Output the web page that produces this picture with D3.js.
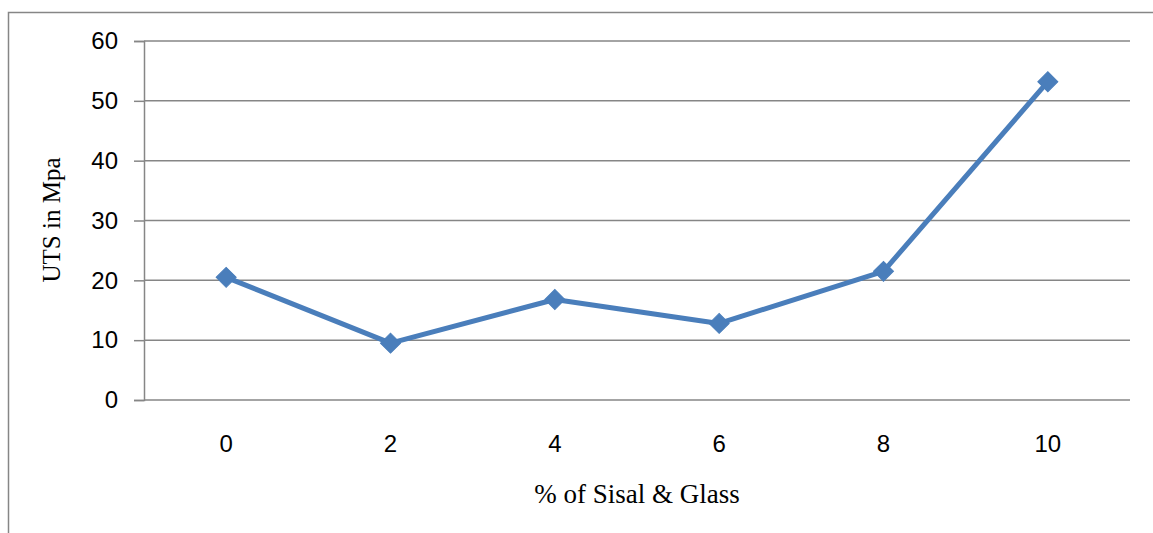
<!DOCTYPE html>
<html><head><meta charset="utf-8">
<script src="https://cdn.jsdelivr.net/npm/d3@7"></script>
<style>body{margin:0;background:#fff}svg{display:block}</style>
</head><body>
<script>
const categories = ["0", "2", "4", "6", "8", "10"];
const utsValues = [20.5, 9.5, 16.8, 12.8, 21.5, 53.2];
const yTicks = [0, 10, 20, 30, 40, 50, 60];
const xTitle = "% of Sisal & Glass";
const yTitle = "UTS in Mpa";

const W = 1153, H = 533;
const svg = d3.select("body").append("svg").attr("width", W).attr("height", H);

// outer frame
svg.append("path").attr("d", "M8.5,533 V12.5 H1153").attr("fill", "none").attr("stroke", "#868686").attr("stroke-width", 1.5);

const m = {left: 144, right: 1130, top: 41, bottom: 400};
const x = d3.scaleBand().domain(categories).range([m.left, m.right]);
const y = d3.scaleLinear().domain([0, 60]).range([m.bottom, m.top]);

// gridlines
svg.append("g").selectAll("line").data(yTicks.filter(d => d > 0)).join("line")
  .attr("x1", m.left).attr("x2", m.right)
  .attr("y1", d => y(d)).attr("y2", d => y(d))
  .attr("stroke", "#868686").attr("stroke-width", 1.5);

// y axis
const yAxis = svg.append("g").attr("transform", `translate(${m.left},0)`)
  .call(d3.axisLeft(y).tickValues(yTicks).tickSize(10).tickPadding(16));
yAxis.select(".domain").attr("stroke", "#868686").attr("stroke-width", 1.5);
yAxis.selectAll(".tick line").attr("stroke", "#868686").attr("stroke-width", 1.5);
yAxis.selectAll("text").attr("font-family", "'Liberation Sans', Arial, sans-serif").attr("font-size", 24).attr("fill", "#000");

// x axis
const xAxis = svg.append("g").attr("transform", `translate(0,${m.bottom})`)
  .call(d3.axisBottom(x).tickSize(0).tickPadding(35));
xAxis.select(".domain").attr("stroke", "#868686").attr("stroke-width", 1.5).attr("d", `M${m.left},0H${m.right}`);
xAxis.selectAll("text").attr("font-family", "'Liberation Sans', Arial, sans-serif").attr("font-size", 24).attr("fill", "#000");

// line
const cx = d => x(d) + x.bandwidth() / 2;
const line = d3.line().x((d, i) => cx(categories[i])).y(d => y(d));
svg.append("path").datum(utsValues).attr("d", line)
  .attr("fill", "none").attr("stroke", "#4a7ebb").attr("stroke-width", 5).attr("stroke-linejoin", "round");

// markers
svg.append("g").selectAll("path").data(utsValues).join("path")
  .attr("d", d3.symbol(d3.symbolSquare, 200)())
  .attr("transform", (d, i) => `translate(${cx(categories[i])},${y(d)}) rotate(45)`)
  .attr("fill", "#4a7ebb").attr("stroke", "#4a7ebb").attr("stroke-width", 1);

// titles
svg.append("text").attr("x", 637).attr("y", 503)
  .attr("text-anchor", "middle").attr("font-family", "'Liberation Serif', 'Times New Roman', serif")
  .attr("font-size", 27).text(xTitle);
svg.append("text").attr("transform", `translate(60,220) rotate(-90)`)
  .attr("text-anchor", "middle").attr("font-family", "'Liberation Serif', 'Times New Roman', serif")
  .attr("font-size", 25).text(yTitle);
</script>
</body></html>
